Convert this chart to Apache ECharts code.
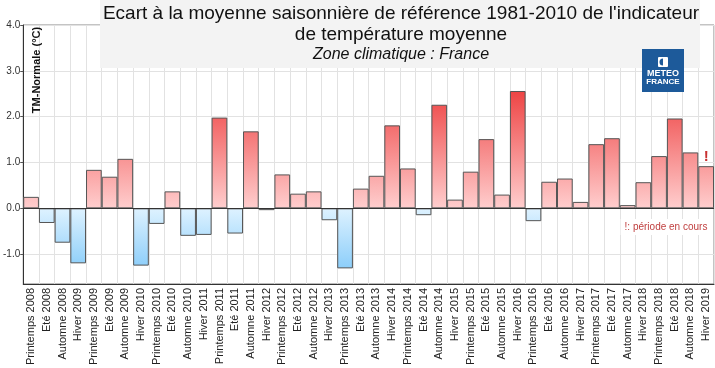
<!DOCTYPE html>
<html><head><meta charset="utf-8">
<script src="https://cdn.jsdelivr.net/npm/echarts@6/dist/echarts.min.js"></script>
<style>html,body{margin:0;padding:0;background:#fff}#c{width:715px;height:368px}</style>
</head><body><div id="c"></div>
<script>
var categories = ["Printemps 2008","Eté 2008","Automne 2008","Hiver 2009","Printemps 2009","Eté 2009","Automne 2009","Hiver 2010","Printemps 2010","Eté 2010","Automne 2010","Hiver 2011","Printemps 2011","Eté 2011","Automne 2011","Hiver 2012","Printemps 2012","Eté 2012","Automne 2012","Hiver 2013","Printemps 2013","Eté 2013","Automne 2013","Hiver 2014","Printemps 2014","Eté 2014","Automne 2014","Hiver 2015","Printemps 2015","Eté 2015","Automne 2015","Hiver 2016","Printemps 2016","Eté 2016","Automne 2016","Hiver 2017","Printemps 2017","Eté 2017","Automne 2017","Hiver 2018","Printemps 2018","Eté 2018","Automne 2018","Hiver 2019"];
var values = [0.25,-0.32,-0.75,-1.20,0.84,0.69,1.08,-1.25,-0.34,0.37,-0.60,-0.58,1.98,-0.55,1.68,-0.04,0.74,0.32,0.37,-0.26,-1.31,0.43,0.71,1.81,0.87,-0.15,2.26,0.19,0.80,1.51,0.30,2.56,-0.28,0.58,0.65,0.14,1.40,1.53,0.07,0.57,1.14,1.96,1.22,0.92];
var ongoing = ["Hiver 2019"];
var yMin = -1.65, yMax = 4.0;

function mix(a, b, t) {
  t = Math.max(0, Math.min(1, t));
  return 'rgb(' + [0,1,2].map(function(i){return Math.round(a[i] + (b[i]-a[i])*t);}).join(',') + ')';
}
var posPale = [255,206,206], posDeep = [238,66,66];
var negPale = [222,242,255], negDeep = [140,206,250];

var data = values.map(function(v, i) {
  var color;
  if (v >= 0) {
    color = {type:'linear', x:0, y:0, x2:0, y2:1, colorStops:[
      {offset:0, color: mix(posPale, posDeep, v/2.6)}, {offset:1, color: mix(posPale, posDeep, 0)}]};
  } else {
    color = {type:'linear', x:0, y:0, x2:0, y2:1, colorStops:[
      {offset:0, color: mix(negPale, negDeep, 0)}, {offset:1, color: mix(negPale, negDeep, -v/1.3)}]};
  }
  var item = {value: v, itemStyle: {color: color}};
  if (ongoing.indexOf(categories[i]) >= 0) {
    item.label = {show: true, position: 'top', formatter: '!', color: '#c83232', fontWeight: 'bold', fontSize: 15, distance: 2};
  }
  return item;
});

var chart = echarts.init(document.getElementById('c'), null, {renderer: 'canvas'});
chart.setOption({
  animation: false,
  backgroundColor: '#fff',
  grid: {left: 22, right: 1, top: 25, bottom: 79, show: true, borderColor: '#888', borderWidth: 1, containLabel: false},
  xAxis: {
    type: 'category', data: categories, boundaryGap: true,
    axisLine: {onZero: false, lineStyle: {color: '#333'}},
    axisTick: {show: false},
    splitLine: {show: true, interval: 0, lineStyle: {color: '#e2e2e2'}},
    axisLabel: {interval: 0, rotate: 90, fontSize: 11, color: '#222', fontFamily: 'Liberation Sans, Arial', margin: 4}
  },
  yAxis: {
    type: 'value', min: yMin, max: yMax,
    axisLine: {show: true, lineStyle: {color: '#333'}},
    axisTick: {show: true, length: 3, lineStyle: {color: '#555'}},
    splitLine: {show: true, lineStyle: {color: '#e2e2e2'}},
    axisLabel: {showMinLabel: false, fontSize: 10, color: '#333', margin: 3, fontFamily: 'Liberation Sans, Arial',
      formatter: function(v){ return v.toFixed(1); }}
  },
  series: [{
    type: 'bar', data: data, barCategoryGap: '0%', barGap: '0%',
    itemStyle: {borderColor: '#555', borderWidth: 1},
    markLine: {silent: true, symbol: 'none', label: {show: false},
      lineStyle: {color: '#333', type: 'solid', width: 1}, data: [{yAxis: 0}]}
  }],
  graphic: [
    {type: 'rect', left: 100, top: 0, shape: {width: 600, height: 68}, style: {fill: '#f3f3f3'}, z: 10},
    {type: 'text', x: 401, y: 14, z: 11, style: {text: "Ecart à la moyenne saisonnière de référence 1981-2010 de l'indicateur", fontSize: 19, fontFamily: 'Liberation Sans, Arial', fill: '#111', align: 'center', verticalAlign: 'middle'}},
    {type: 'text', x: 401, y: 35, z: 11, style: {text: 'de température moyenne', fontSize: 19, fontFamily: 'Liberation Sans, Arial', fill: '#111', align: 'center', verticalAlign: 'middle'}},
    {type: 'text', x: 401, y: 55, z: 11, style: {text: 'Zone climatique : France', fontSize: 16, fontStyle: 'italic', fontFamily: 'Liberation Sans, Arial', fill: '#111', align: 'center', verticalAlign: 'middle'}},
    {type: 'rect', left: 642, top: 49, shape: {width: 42, height: 43}, style: {fill: '#1d5a9a'}, z: 12},
    {type: 'rect', shape: {x: 658, y: 57, width: 10, height: 10, r: 1}, style: {fill: '#fff'}, z: 13},
    {type: 'circle', shape: {cx: 663, cy: 62, r: 3.5}, style: {fill: '#1d5a9a'}, z: 14},
    {type: 'rect', shape: {x: 663, y: 58, width: 4, height: 8}, style: {fill: '#fff'}, z: 15},
    {type: 'text', x: 663, y: 74, z: 13, style: {text: 'METEO', fontSize: 9, fontWeight: 'bold', fontFamily: 'Liberation Sans, Arial', fill: '#fff', align: 'center', verticalAlign: 'middle'}},
    {type: 'text', x: 663, y: 82, z: 13, style: {text: 'FRANCE', fontSize: 8, fontWeight: 'bold', fontFamily: 'Liberation Sans, Arial', fill: '#fff', align: 'center', verticalAlign: 'middle'}},
    {type: 'text', x: 37, y: 70, rotation: Math.PI/2, z: 11, style: {text: 'TM-Normale (°C)', fontSize: 11, fontWeight: 'bold', fontFamily: 'Liberation Sans, Arial', fill: '#111', align: 'center', verticalAlign: 'middle'}},
    {type: 'text', x: 666, y: 227, z: 11, style: {text: '!: période en cours', fontSize: 10, fontFamily: 'Liberation Sans, Arial', fill: '#c04040', align: 'center', verticalAlign: 'middle', backgroundColor: '#fff', padding: [3, 4]}}
  ]
});
</script></body></html>
